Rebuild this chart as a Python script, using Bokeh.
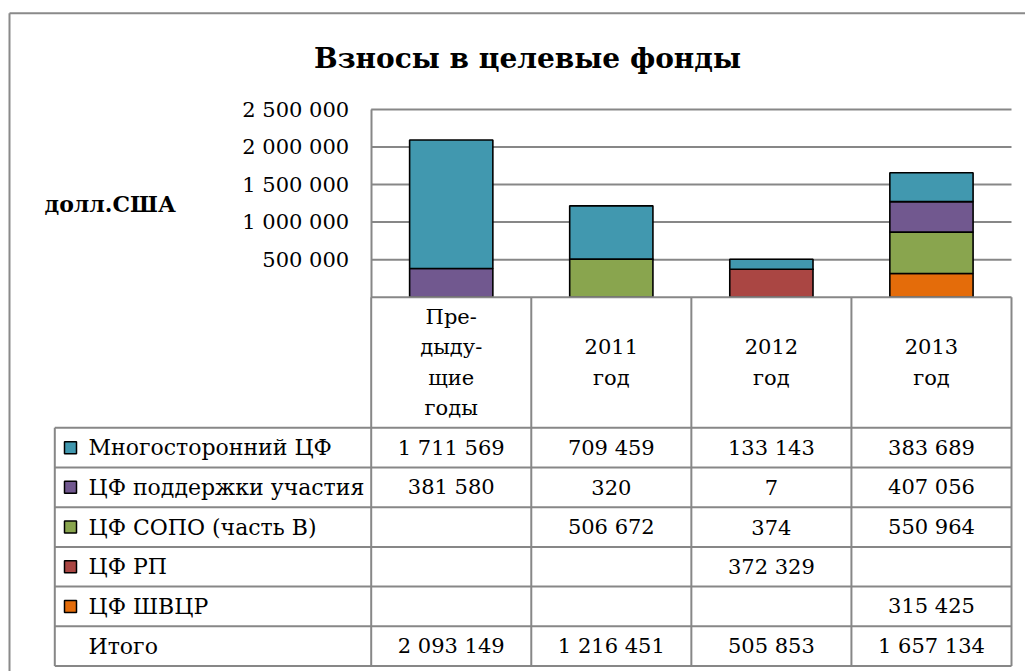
from bokeh.plotting import figure
from bokeh.models import Range1d, FixedTicker, CustomJSTickFormatter
from bokeh.core.properties import value
from bokeh.embed import file_html
from bokeh.resources import INLINE

# ---------------- data ----------------
title_text = "Взносы в целевые фонды"
unit_label = "долл.США"
categories = ["Пре-\nдыду-\nщие\nгоды", "2011\nгод", "2012\nгод", "2013\nгод"]
series_names = ["Многосторонний ЦФ", "ЦФ поддержки участия", "ЦФ СОПО (часть В)", "ЦФ РП", "ЦФ ШВЦР"]
multilateral = [1711569, 709459, 133143, 383689]
participation = [381580, 320, 7, 407056]
sopo = [None, 506672, 374, 550964]
rp = [None, None, 372329, None]
shvcr = [None, None, None, 315425]
totals = [2093149, 1216451, 505853, 1657134]
total_label = "Итого"
series_colors = ["#4198AF", "#71588F", "#89A54E", "#AA4643", "#E46C0A"]
y_ticks = [500000, 1000000, 1500000, 2000000, 2500000]

series_values = [multilateral, participation, sopo, rp, shvcr]

# ---------------- layout (page pixels) ----------------
W, H = 1025, 671
PAGE_L, PAGE_T = 0, 0
PAGE_R, PAGE_B = PAGE_L + W, PAGE_T + H
col_left, col_right = 370.7, 1011.0
ncat = len(categories)
col_w = (col_right - col_left) / ncat
y0_page, ytop_page = 296.7, 109.0
ymax = y_ticks[-1]
ppu = (y0_page - ytop_page) / ymax

x_start = (PAGE_L - col_left) / col_w
x_end = (PAGE_R - col_left) / col_w
y_end = ymax + (ytop_page - PAGE_T) / ppu
y_start = -(PAGE_B - y0_page) / ppu

FONT_NAME = "DejaVu Serif"
FONT = value(FONT_NAME)
GRID = "#878787"
TXT = "21px"

p = figure(width=W, height=H, x_range=Range1d(x_start, x_end), y_range=Range1d(y_start, y_end),
           output_backend="svg", toolbar_location=None, min_border=0,
           x_axis_location=None, y_axis_location="left")
p.outline_line_color = None
p.background_fill_color = "white"
p.border_fill_color = "white"
p.grid.visible = False
p.extra_x_ranges = {"px": Range1d(PAGE_L, PAGE_R)}
p.extra_y_ranges = {"px": Range1d(PAGE_B, PAGE_T)}

ax = p.yaxis[0]
ax.fixed_location = 0
ax.bounds = (0, ymax)
ax.ticker = FixedTicker(ticks=y_ticks)
ax.formatter = CustomJSTickFormatter(code="return Math.round(tick).toString().replace(/\\B(?=(\\d{3})+(?!\\d))/g, ' ')")
ax.major_tick_line_color = None
ax.minor_tick_line_color = None
ax.major_tick_out = 0
ax.major_tick_in = 0
ax.axis_line_color = GRID
ax.axis_line_width = 2
ax.major_label_standoff = 22
ax.major_label_text_font = FONT_NAME
ax.major_label_text_font_size = TXT
ax.major_label_text_color = "black"

# outer chart border
p.segment(x0=[9, 9], y0=[12.7, 12.7], x1=[9, PAGE_R], y1=[PAGE_B, 12.7],
          x_range_name="px", y_range_name="px", line_color="#8a8a8a", line_width=2)

# gridlines
grid_vals = y_ticks
p.segment(x0=[0] * len(grid_vals), x1=[ncat] * len(grid_vals), y0=grid_vals, y1=grid_vals,
          line_color=GRID, line_width=2)

# stacked bars (bottom -> top: last series first)
cum = [0] * ncat
for vals, color in reversed(list(zip(series_values, series_colors))):
    xs, bots, tops = [], [], []
    for i, v in enumerate(vals):
        if v:
            xs.append(i + 0.5)
            bots.append(cum[i])
            tops.append(cum[i] + v)
            cum[i] += v
    if xs:
        p.vbar(x=xs, bottom=bots, top=tops, width=0.52, fill_color=color,
               line_color="black", line_width=1.6)

# title and unit label
p.text(x=[527], y=[58], text=[title_text], x_range_name="px", y_range_name="px",
       text_font=FONT, text_font_style="bold", text_font_size="28px",
       text_align="center", text_baseline="alphabetic", text_color="black")
p.text(x=[44], y=[203], text=[unit_label], x_range_name="px", y_range_name="px",
       text_font=FONT, text_font_style="bold", text_font_size="22px",
       text_align="left", text_baseline="alphabetic", text_color="black")

# ---------------- data table ----------------
table_left = 54.3
table_top = 427.3
row_h = 39.7
nrows = len(series_names) + 1
row_edges = [table_top + k * row_h for k in range(nrows + 1)]
col_edges = [col_left + i * col_w for i in range(ncat + 1)]
col_centers = [col_left + (i + 0.5) * col_w for i in range(ncat)]

# header text
p.text(x=col_centers, y=[(y0_page + table_top) / 2] * ncat, text=categories,
       x_range_name="px", y_range_name="px", text_font=FONT, text_font_size=TXT,
       text_align="center", text_baseline="middle", text_line_height=1.26, text_color="black")

# table lines
hx0 = [col_left] + [table_left] * len(row_edges)
hx1 = [col_right] * (len(row_edges) + 1)
hy = [y0_page] + row_edges
vx = col_edges + [table_left]
vy0 = [y0_page] * len(col_edges) + [table_top]
vy1 = [row_edges[-1]] * (len(col_edges) + 1)
p.segment(x0=hx0, x1=hx1, y0=hy, y1=hy, x_range_name="px", y_range_name="px",
          line_color=GRID, line_width=2)
p.segment(x0=vx, x1=vx, y0=vy0, y1=vy1, x_range_name="px", y_range_name="px",
          line_color=GRID, line_width=2)

row_centers = [(row_edges[k] + row_edges[k + 1]) / 2 for k in range(nrows)]

def fmt(v):
    return "" if v is None else f"{v:,}".replace(",", " ")

# legend keys
p.rect(x=[70] * len(series_names), y=row_centers[:len(series_names)], width=12, height=12,
       fill_color=series_colors, line_color="black", line_width=1.5,
       x_range_name="px", y_range_name="px")
# row labels
p.text(x=[88] * nrows, y=row_centers, text=series_names + [total_label],
       x_range_name="px", y_range_name="px", text_font=FONT, text_font_size="22px",
       text_align="left", text_baseline="middle", text_color="black")
# values
tx, ty, tt = [], [], []
for k, vals in enumerate(series_values + [totals]):
    for i, v in enumerate(vals):
        if v is not None:
            tx.append(col_centers[i])
            ty.append(row_centers[k])
            tt.append(fmt(v))
p.text(x=tx, y=ty, text=tt, x_range_name="px", y_range_name="px", text_font=FONT,
       text_font_size=TXT, text_align="center", text_baseline="middle", text_color="black")

open("out.html", "w").write(file_html(p, INLINE))
